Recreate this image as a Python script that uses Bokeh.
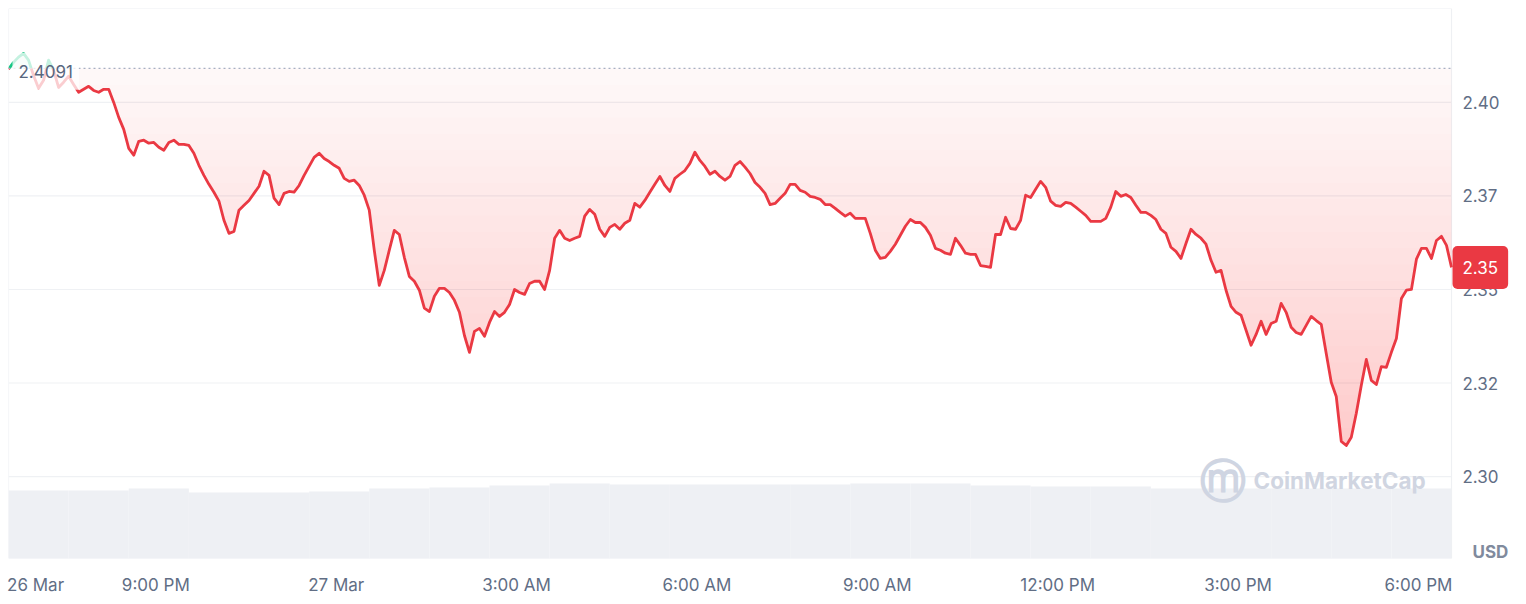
import numpy as np
from datetime import datetime
from bokeh.plotting import figure
from bokeh.models import Range1d, LinearAxis, FixedTicker, Label
from bokeh.embed import file_html
from bokeh.resources import INLINE

# ---------------- data ----------------
START = datetime(2024, 3, 26, 18, 33)
STEP_MIN = 5
price = [
    2.4089, 2.4107, 2.4121, 2.4131, 2.4113, 2.4072, 2.4038, 2.4059, 2.4113, 2.4086,
    2.4040, 2.4054, 2.4070, 2.4048, 2.4027, 2.4035, 2.4043, 2.4032, 2.4027, 2.4035,
    2.4035, 2.4000, 2.3960, 2.3928, 2.3877, 2.3859, 2.3896, 2.3899, 2.3891, 2.3893,
    2.3880, 2.3872, 2.3893, 2.3899, 2.3888, 2.3888, 2.3885, 2.3864, 2.3832, 2.3805,
    2.3781, 2.3760, 2.3736, 2.3685, 2.3650, 2.3655, 2.3712, 2.3725, 2.3738, 2.3757,
    2.3776, 2.3816, 2.3805, 2.3744, 2.3727, 2.3757, 2.3762, 2.3760, 2.3778, 2.3805,
    2.3829, 2.3853, 2.3864, 2.3850, 2.3842, 2.3832, 2.3824, 2.3797, 2.3789, 2.3792,
    2.3778, 2.3752, 2.3712, 2.3605, 2.3511, 2.3551, 2.3605, 2.3658, 2.3647, 2.3586,
    2.3535, 2.3522, 2.3498, 2.3450, 2.3441, 2.3482, 2.3503, 2.3503, 2.3492, 2.3471,
    2.3439, 2.3377, 2.3332, 2.3388, 2.3396, 2.3375, 2.3412, 2.3441, 2.3428, 2.3439,
    2.3460, 2.3500, 2.3492, 2.3487, 2.3516, 2.3522, 2.3522, 2.3500, 2.3551, 2.3637,
    2.3658, 2.3637, 2.3631, 2.3637, 2.3642, 2.3696, 2.3714, 2.3701, 2.3661, 2.3642,
    2.3666, 2.3674, 2.3661, 2.3677, 2.3685, 2.3730, 2.3720, 2.3738, 2.3760, 2.3781,
    2.3802, 2.3778, 2.3762, 2.3797, 2.3808, 2.3818, 2.3837, 2.3867, 2.3845, 2.3829,
    2.3808, 2.3816, 2.3802, 2.3792, 2.3802, 2.3832, 2.3842, 2.3827, 2.3810, 2.3786,
    2.3773, 2.3757, 2.3727, 2.3730, 2.3744, 2.3757, 2.3781, 2.3781, 2.3765, 2.3760,
    2.3749, 2.3746, 2.3741, 2.3727, 2.3727, 2.3717, 2.3706, 2.3696, 2.3704, 2.3690,
    2.3690, 2.3690, 2.3650, 2.3605, 2.3583, 2.3586, 2.3602, 2.3621, 2.3645, 2.3669,
    2.3687, 2.3679, 2.3679, 2.3666, 2.3645, 2.3610, 2.3605, 2.3597, 2.3594, 2.3637,
    2.3618, 2.3597, 2.3594, 2.3594, 2.3564, 2.3562, 2.3559, 2.3647, 2.3647, 2.3693,
    2.3663, 2.3661, 2.3685, 2.3752, 2.3746, 2.3768, 2.3789, 2.3773, 2.3736, 2.3725,
    2.3722, 2.3733, 2.3730, 2.3720, 2.3709, 2.3698, 2.3682, 2.3682, 2.3682, 2.3690,
    2.3720, 2.3762, 2.3749, 2.3754, 2.3746, 2.3725, 2.3706, 2.3706, 2.3698, 2.3687,
    2.3661, 2.3650, 2.3613, 2.3602, 2.3583, 2.3623, 2.3661, 2.3647, 2.3637, 2.3621,
    2.3578, 2.3546, 2.3551, 2.3498, 2.3455, 2.3439, 2.3431, 2.3391, 2.3351, 2.3380,
    2.3415, 2.3380, 2.3409, 2.3415, 2.3463, 2.3439, 2.3399, 2.3385, 2.3380, 2.3404,
    2.3428, 2.3417, 2.3407, 2.3329, 2.3252, 2.3214, 2.3094, 2.3083, 2.3105, 2.3169,
    2.3244, 2.3313, 2.3257, 2.3246, 2.3294, 2.3292, 2.3332, 2.3369, 2.3476, 2.3498,
    2.3500, 2.3581, 2.3610, 2.3610, 2.3583, 2.3631, 2.3642, 2.3618, 2.3559,
]
baseline = 2.4091
baseline_text = "2.4091"
price_tag_text = "2.35"
volume_hourly_m = [6.8, 6.8, 7.0, 6.6, 6.6, 6.7, 7.0, 7.1, 7.3, 7.5, 7.4, 7.4,
                   7.4, 7.4, 7.5, 7.5, 7.3, 7.2, 7.2, 7.0, 7.0, 7.0, 7.0, 7.0]
y_ticks = [2.30, 2.325, 2.35, 2.375, 2.40]
y_tick_labels = ["2.30", "2.32", "2.35", "2.37", "2.40"]
x_tick_times = [datetime(2024, 3, 26, 19, 0), datetime(2024, 3, 26, 21, 0),
                datetime(2024, 3, 27, 0, 0), datetime(2024, 3, 27, 3, 0),
                datetime(2024, 3, 27, 6, 0), datetime(2024, 3, 27, 9, 0),
                datetime(2024, 3, 27, 12, 0), datetime(2024, 3, 27, 15, 0),
                datetime(2024, 3, 27, 18, 0)]
x_tick_labels = ["26 Mar", "9:00 PM", "27 Mar", "3:00 AM", "6:00 AM", "9:00 AM",
                 "12:00 PM", "3:00 PM", "6:00 PM"]

# ---------------- styling ----------------
RED = "#ea3943"
GREEN = "#16c784"
GRAY_TXT = "#616e85"
BORDER = "#eef0f3"
FONT = "Inter"

p_arr = np.array(price, dtype=float)
x_min = np.arange(len(p_arr)) * STEP_MIN  # minutes from START
t_end = float(x_min[-1])
Y0, Y1 = 2.2781, 2.4251
FRAME_W, DATA_W = 1504, 1443        # frame width vs. width used by the series (px)
X_END = t_end * FRAME_W / DATA_W    # room on the right for the price scale

def minutes(dt):
    return int(round((dt - START).total_seconds() / 60))

x_ticks = [minutes(d) for d in x_tick_times]

# insert crossing points with the baseline
ox, oy = [x_min[0]], [p_arr[0]]
for i in range(1, len(p_arr)):
    a, b = p_arr[i - 1], p_arr[i]
    if (a - baseline) * (b - baseline) < 0:
        f = (baseline - a) / (b - a)
        ox.append(x_min[i - 1] + f * (x_min[i] - x_min[i - 1]))
        oy.append(baseline)
    ox.append(x_min[i]); oy.append(p_arr[i])
ox = np.array(ox, dtype=float); oy = np.array(oy, dtype=float)

p = figure(width=1518, height=598, output_backend="svg", toolbar_location=None,
           x_range=Range1d(0, X_END), y_range=Range1d(Y0, Y1),
           min_border_left=8, min_border_top=8, min_border_right=6,
           min_border_bottom=40, x_axis_location=None, y_axis_location=None)
p.outline_line_color = None
p.background_fill_color = "white"
p.border_fill_color = "white"
p.xgrid.visible = False
p.ygrid.visible = False

# volume
p.extra_y_ranges = {"vol": Range1d(0, 55)}
vol_x = [30 + 60 * i for i in range(len(volume_hourly_m))]
p.vbar(x=vol_x, top=volume_hourly_m, width=60, bottom=0, y_range_name="vol",
       fill_color="#eef0f4", line_color=None)

# horizontal grid lines (stop at the chart's right edge)
p.segment(x0=[0] * len(y_ticks), x1=[t_end] * len(y_ticks), y0=y_ticks, y1=y_ticks,
          line_color="#eff1f4", line_width=1.2)
# chart border
p.quad(left=0, right=t_end, bottom=Y0, top=Y1, fill_color=None,
       line_color=BORDER, line_width=1.2)

# x axis
xax = LinearAxis(ticker=FixedTicker(ticks=x_ticks))
xax.major_label_overrides = {t: l for t, l in zip(x_ticks, x_tick_labels)}
xax.axis_line_color = None
xax.major_tick_line_color = None
xax.minor_tick_line_color = None
xax.major_label_standoff = 10
xax.major_label_text_font = FONT
xax.major_label_text_font_size = "17px"
xax.major_label_text_color = GRAY_TXT
p.add_layout(xax, "below")

# y scale labels (right side)
p.text(x=[t_end] * len(y_ticks), y=y_ticks, text=y_tick_labels, x_offset=11,
       text_font={"value": FONT}, text_font_size="17px", text_color=GRAY_TXT,
       text_baseline="middle", text_align="left")

# red gradient fill (stacked translucent bands)
lower = np.minimum(oy, baseline)
p.varea(x=ox, y1=lower, y2=np.full_like(lower, baseline), fill_color=RED, fill_alpha=0.035)
for L in np.linspace(baseline, Y0, 31)[1:]:
    p.varea(x=ox, y1=lower, y2=np.maximum(lower, L), fill_color=RED, fill_alpha=0.013)
# green fill above baseline
upper = np.maximum(oy, baseline)
p.varea(x=ox, y1=np.full_like(upper, baseline), y2=upper, fill_color=GREEN, fill_alpha=0.12)

# lines
red_y = np.where(oy <= baseline, oy, np.nan)
green_y = np.where(oy >= baseline, oy, np.nan)
p.line(ox, red_y, line_color=RED, line_width=2.8, line_join="round")
p.line(ox, green_y, line_color=GREEN, line_width=2.8, line_join="round")

# baseline
p.segment(x0=[0], x1=[t_end], y0=[baseline], y1=[baseline], line_color="#a6b0c3",
          line_dash="2 3", line_width=1.3)
p.add_layout(Label(x=0, y=baseline, x_offset=4, y_offset=-3, text=baseline_text,
                   text_font=FONT, text_font_size="17px", text_color="#58667e",
                   text_baseline="middle", text_align="left",
                   background_fill_color="white", background_fill_alpha=0.75,
                   padding=dict(x=6, y=12)))

# watermark
p.add_layout(Label(x=1214, y=78, x_units="screen", y_units="screen", text="ⓜ",
                   text_font="DejaVu Sans", text_font_size="46px", text_color="#cfd5e2",
                   text_font_style="bold", text_align="center", text_baseline="middle"))
p.add_layout(Label(x=1245, y=78, x_units="screen", y_units="screen", text="CoinMarketCap",
                   text_font=FONT, text_font_size="22.5px", text_font_style="bold",
                   text_color="#d0d5e1", text_align="left", text_baseline="middle"))

# price tag
p.add_layout(Label(x=t_end, y=float(p_arr[-1]), x_offset=1, text=price_tag_text,
                   text_font=FONT, text_font_size="17px", text_color="white",
                   text_baseline="middle", text_align="left",
                   background_fill_color=RED, border_radius=5,
                   padding=dict(x=10, y=15)))
# USD
p.add_layout(Label(x=t_end, y=Y0, x_offset=21, y_offset=-3, text="USD",
                   text_font=FONT, text_font_size="17px", text_font_style="bold",
                   text_color="#808a9d", text_baseline="bottom", text_align="left"))

open("out.html", "w").write(file_html(p, INLINE))
